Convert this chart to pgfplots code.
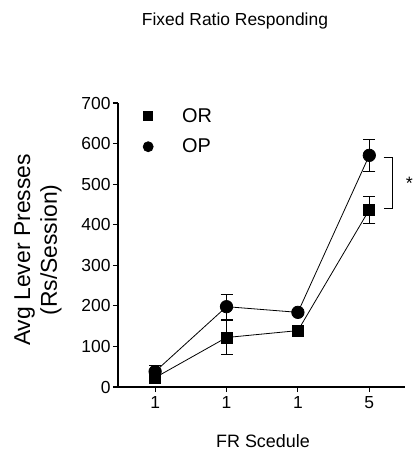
\documentclass[border=0pt]{standalone}
\usepackage{pgfplots}
\pgfplotsset{compat=1.18}
\usepackage{fontspec}
\setmainfont{Liberation Sans}
\begin{document}
\begin{tikzpicture}
\useasboundingbox (-118bp,-63bp) rectangle (297bp,387bp);
\begin{axis}[
  at={(0,0)}, anchor=south west,
  scale only axis, width=287bp, height=284bp,
  xmin=-0.52, xmax=3.5, ymin=0, ymax=700,
  axis x line*=bottom, axis y line*=left,
  axis line style={-, line width=1.1pt},
  xtick={0,1,2,3}, xticklabels={1,1,1,5},
  ytick={0,100,...,700},
  tick align=outside, major tick length=5bp,
  tick style={black, line width=1.1pt},
  /pgf/number format/assume math mode=true,
  ticklabel style={font=\fontsize{17.5}{20}\selectfont},
  yticklabel style={xshift=1bp},
  xticklabel style={yshift=-1bp},
  legend style={draw=none, fill=none, at={(0.0,0.995)}, anchor=north west,
    font=\fontsize{20}{24}\selectfont, row sep=11bp, nodes={inner xsep=6bp}},
  legend cell align=left,
  legend image code/.code={\path[draw=none,fill=none] (0bp,0bp) -- (55bp,0bp); \draw[#1] plot[only marks] coordinates {(27bp,0bp)};},
  clip=false,
]
\addplot[black, line width=0.8pt, mark=square*, mark size=5.5bp,
  legend image post style={mark size=4.5bp},
  error bars/.cd, y dir=both, y explicit, error bar style={line width=1.1pt}, error mark options={rotate=90, mark size=6bp, line width=1.1pt}]
  coordinates {(0,23) +- (0,12) (1,122) +- (0,42) (2,139) +- (0,6) (3,437) +- (0,33)};
\addlegendentry{OR}
\addplot[black, line width=0.8pt, mark=*, mark size=6.2bp,
  legend image post style={mark size=5bp},
  error bars/.cd, y dir=both, y explicit, error bar style={line width=1.1pt}, error mark options={rotate=90, mark size=6bp, line width=1.1pt}]
  coordinates {(0,38) +- (0,15) (1,198) +- (0,31) (2,184) +- (0,6) (3,571) +- (0,39)};
\addlegendentry{OP}
\draw[line width=1.1pt] (axis cs:3.2,566) -- (axis cs:3.32,566) -- (axis cs:3.32,441) -- (axis cs:3.2,441);
\node[font=\fontsize{18}{20}\selectfont] at (axis cs:3.56,502) {*};
\end{axis}
\node[font=\fontsize{17.5}{20}\selectfont] at (117bp,366bp) {Fixed Ratio Responding};
\node[font=\fontsize{23}{27}\selectfont, rotate=90, align=center] at (-80bp,137bp) {Avg Lever Presses\\(Rs/Session)};
\node[font=\fontsize{18}{21}\selectfont] at (145bp,-54bp) {FR Scedule};
\end{tikzpicture}
\end{document}
